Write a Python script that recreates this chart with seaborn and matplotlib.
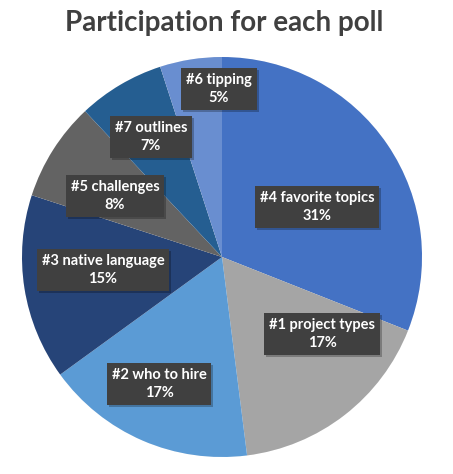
import matplotlib
matplotlib.use("Agg")
import matplotlib.pyplot as plt
import matplotlib.patheffects as pe
import seaborn as sns

# poll participation (clockwise from 12 o'clock)
polls = ['#4 favorite topics', '#1 project types', '#2 who to hire',
         '#3 native language', '#5 challenges', '#7 outlines', '#6 tipping']
share = [31, 17, 17, 15, 8, 7, 5]
colors = ['#4472C4', '#A5A5A5', '#5B9BD5', '#264478', '#636363', '#255E91', '#698ED0']

# label box centres in pie units (Excel "best fit" placement)
label_pos = [(0.475, 0.25), (0.50, -0.385), (-0.315, -0.635), (-0.595, -0.065),
             (-0.535, 0.305), (-0.355, 0.60), (-0.015, 0.84)]

sns.set_theme(style='white')
plt.rcParams['font.family'] = ['Lato', 'DejaVu Sans']

fig = plt.figure(figsize=(4.53, 4.74), dpi=100)
fig.patch.set_facecolor('white')
ax = fig.add_axes([22 / 453, 17 / 474, 400 / 453, 400 / 474])

wedges, _ = ax.pie(share, colors=colors, startangle=90, counterclock=False,
                   wedgeprops=dict(linewidth=0))
for w in wedges:
    w.set_path_effects([pe.SimplePatchShadow(offset=(0, 0), shadow_rgbFace='#dddddd', alpha=0.4),
                        pe.Normal()])

for name, val, (x, y) in zip(polls, share, label_pos):
    t = ax.text(x, y, f'{name}\n{val}%', ha='center', va='center',
                fontsize=10.5, fontweight='bold', color='white', linespacing=1.4,
                bbox=dict(boxstyle='square,pad=0.32', facecolor='#404040',
                          edgecolor='none'))
    t.get_bbox_patch().set_path_effects([
        pe.SimplePatchShadow(offset=(1.5, -1.5), shadow_rgbFace='black', alpha=0.25),
        pe.Normal()])

ax.set_xlim(-1, 1)
ax.set_ylim(-1, 1)
ax.set_aspect('equal')
ax.axis('off')

fig.text(0.495, 1 - 23 / 474, 'Participation for each poll', ha='center', va='center',
         fontsize=20, fontweight='bold', color='#404040')

fig.savefig('out.png', dpi=100)
